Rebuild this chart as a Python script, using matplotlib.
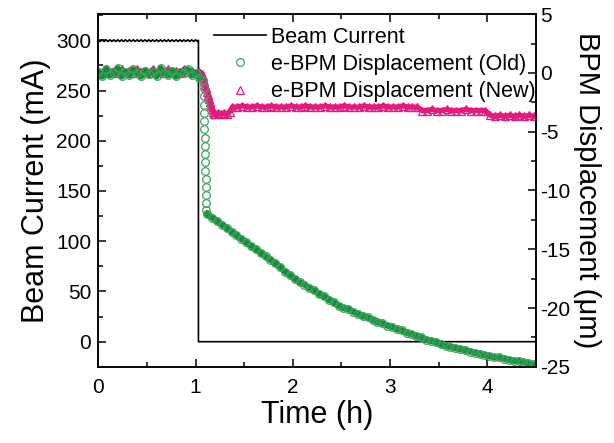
import matplotlib
matplotlib.use('Agg')
import matplotlib.pyplot as plt
from matplotlib.ticker import MultipleLocator

plt.rcParams['font.family'] = ['Liberation Sans', 'DejaVu Sans']
plt.rcParams['axes.unicode_minus'] = False

# beam current (mA), top-up sawtooth then beam dump
beam_t = [0.00, 0.02, 0.04, 0.06, 0.08, 0.10, 0.12, 0.14, 0.16, 0.18, 0.20, 0.22, 0.24,
          0.26, 0.28, 0.30, 0.32, 0.34, 0.36, 0.38, 0.40, 0.42, 0.44, 0.46, 0.48, 0.50,
          0.52, 0.54, 0.56, 0.58, 0.60, 0.62, 0.64, 0.66, 0.68, 0.70, 0.72, 0.74, 0.76,
          0.78, 0.80, 0.82, 0.84, 0.86, 0.88, 0.90, 0.92, 0.94, 0.96, 0.98, 1.00, 1.02,
          1.03, 1.03, 4.50]
beam_i = [300.5, 298.8, 300.5, 298.8, 300.5, 298.8, 300.5, 298.8, 300.5, 298.8, 300.5, 298.8, 300.5,
          298.8, 300.5, 298.8, 300.5, 298.8, 300.5, 298.8, 300.5, 298.8, 300.5, 298.8, 300.5, 298.8,
          300.5, 298.8, 300.5, 298.8, 300.5, 298.8, 300.5, 298.8, 300.5, 298.8, 300.5, 298.8, 300.5,
          298.8, 300.5, 298.8, 300.5, 298.8, 300.5, 298.8, 300.5, 298.8, 300.5, 298.8, 300.5, 298.8,
          300.0, 0.0, 0.0]

# e-BPM displacement, old (um): flat part, drop after the dump, slow decay
old_t = [0.00, 0.04, 0.08, 0.12, 0.16, 0.20, 0.24, 0.28, 0.32, 0.36, 0.40, 0.44, 0.48, 0.52,
         0.56, 0.60, 0.64, 0.68, 0.72, 0.76, 0.80, 0.84, 0.88, 0.92, 0.96, 1.00, 1.04,
         1.080, 1.082, 1.084, 1.086, 1.088, 1.090, 1.092, 1.094, 1.096, 1.098, 1.100,
         1.102, 1.104, 1.106, 1.108, 1.110, 1.112,
         1.12, 1.17, 1.22, 1.27, 1.32, 1.37, 1.42, 1.47, 1.52, 1.57, 1.62, 1.67, 1.72,
         1.77, 1.82, 1.87, 1.92, 1.97, 2.02, 2.07, 2.12, 2.17, 2.22, 2.27, 2.32, 2.37,
         2.42, 2.47, 2.52, 2.57, 2.62, 2.67, 2.72, 2.77, 2.82, 2.87, 2.92, 2.97, 3.02,
         3.07, 3.12, 3.17, 3.22, 3.27, 3.32, 3.37, 3.42, 3.47, 3.52, 3.57, 3.62, 3.67,
         3.72, 3.77, 3.82, 3.87, 3.92, 3.97, 4.02, 4.07, 4.12, 4.17, 4.22, 4.27, 4.32,
         4.37, 4.42, 4.47]
old_v = [0.1, -0.3, 0.3, -0.2, 0.0, 0.4, -0.3, 0.1, -0.2, 0.3, 0.0, -0.3, 0.2, -0.1,
         0.1, -0.3, 0.4, 0.0, -0.2, 0.2, -0.3, 0.1, 0.0, 0.3, -0.2, 0.0, -0.4,
         -0.6, -1.3, -2.0, -2.7, -3.4, -4.1, -4.8, -5.5, -6.2, -6.9, -7.6,
         -8.3, -9.0, -9.7, -10.4, -11.1, -11.7,
         -12.0, -12.3, -12.6, -12.9, -13.2, -13.5, -13.8, -14.1, -14.4, -14.7, -15.0, -15.3, -15.6,
         -15.9, -16.2, -16.5, -16.9, -17.2, -17.5, -17.8, -18.0, -18.3, -18.5, -18.8, -19.0, -19.3,
         -19.5, -19.8, -20.0, -20.1, -20.3, -20.5, -20.7, -20.8, -21.0, -21.2, -21.3, -21.5, -21.6,
         -21.8, -21.9, -22.1, -22.2, -22.4, -22.5, -22.7, -22.8, -22.9, -23.1, -23.2, -23.3, -23.4,
         -23.5, -23.6, -23.7, -23.8, -23.9, -24.0, -24.1, -24.2, -24.2, -24.3, -24.4, -24.5, -24.5,
         -24.6, -24.7, -24.8]
n_flat = 27      # samples before the drop
n_decay = 44     # first sample of the slow decay

# e-BPM displacement, new (um)
new_t = [0.00, 0.04, 0.08, 0.12, 0.16, 0.20, 0.24, 0.28, 0.32, 0.36, 0.40, 0.44, 0.48, 0.52,
         0.56, 0.60, 0.64, 0.68, 0.72, 0.76, 0.80, 0.84, 0.88, 0.92, 0.96, 1.00, 1.04,
         1.07, 1.08, 1.09, 1.10, 1.11, 1.12, 1.13, 1.14, 1.15, 1.16, 1.17, 1.18, 1.19, 1.20,
         1.23, 1.26, 1.29, 1.32, 1.35,
         1.38, 1.43, 1.48, 1.53, 1.58, 1.63, 1.68, 1.73, 1.78, 1.83, 1.88, 1.93, 1.98,
         2.03, 2.08, 2.13, 2.18, 2.23, 2.28, 2.33, 2.38, 2.43, 2.48, 2.53, 2.58, 2.63,
         2.68, 2.73, 2.78, 2.83, 2.88, 2.93, 2.98, 3.03, 3.08, 3.13, 3.18, 3.23, 3.28,
         3.33, 3.38, 3.43, 3.48, 3.53, 3.58, 3.63, 3.68, 3.73, 3.78, 3.83, 3.88, 3.93, 3.98,
         4.03, 4.08, 4.13, 4.18, 4.23, 4.28, 4.33, 4.38, 4.43, 4.48]
new_v = [0.2, 0.0, 0.3, 0.1, 0.2, 0.0, 0.3, 0.1, 0.2, 0.0, 0.3, 0.1, 0.2, 0.0,
         0.3, 0.1, 0.2, 0.0, 0.3, 0.1, 0.2, 0.0, 0.3, 0.1, 0.2, 0.0, 0.1,
         -0.1, -0.4, -0.7, -1.0, -1.3, -1.6, -1.9, -2.2, -2.5, -2.8, -3.1, -3.3, -3.5, -3.5,
         -3.4, -3.5, -3.4, -3.5, -3.3,
         -2.9, -2.9, -2.8, -2.9, -2.9, -2.8, -2.9, -2.9, -2.8, -2.9, -2.9, -2.9, -2.8,
         -2.9, -2.9, -2.8, -2.9, -2.9, -2.9, -2.8, -2.9, -2.9, -2.9, -2.8, -2.9, -2.9,
         -2.9, -2.8, -2.9, -2.9, -2.9, -2.8, -2.9, -2.9, -2.9, -2.8, -2.9, -2.9, -2.9,
         -3.2, -3.2, -3.1, -3.2, -3.2, -3.1, -3.2, -3.2, -3.2, -3.1, -3.2, -3.2, -3.2, -3.2,
         -3.6, -3.7, -3.6, -3.7, -3.6, -3.7, -3.6, -3.7, -3.6, -3.7]

GREEN = '#178a39'
GREEN_LT = '#3aa35a'
PINK = '#e6197f'

fig = plt.figure(figsize=(6.14, 4.43), dpi=100)
ax = fig.add_axes([0.16, 0.172, 0.713, 0.796])
ax2 = ax.twinx()

l1, = ax.plot(beam_t, beam_i, color='black', lw=1.2, label='Beam Current')

# dense samples in the original merge into solid bands
ax2.plot(new_t, new_v, color=PINK, lw=3.8, solid_joinstyle='round')
l3, = ax2.plot(new_t, new_v, ls='none', marker='^', ms=6, mfc='none', mec=PINK, mew=0.9,
               label='e-BPM Displacement (New)')
ax2.plot(old_t[:n_flat], old_v[:n_flat], color=GREEN, lw=4.5)
ax2.plot(old_t[n_decay:], old_v[n_decay:], color=GREEN, lw=4.5)
l2, = ax2.plot(old_t, old_v, ls='none', marker='o', ms=5.5, mfc='none', mec=GREEN_LT, mew=0.9,
               label='e-BPM Displacement (Old)')

ax.set_xlim(0, 4.5)
ax.set_ylim(-25, 326)
ax2.set_ylim(-25, 5)

ax.xaxis.set_major_locator(MultipleLocator(1))
ax.xaxis.set_minor_locator(MultipleLocator(0.5))
ax.yaxis.set_major_locator(MultipleLocator(50))
ax.yaxis.set_minor_locator(MultipleLocator(25))
ax2.yaxis.set_major_locator(MultipleLocator(5))
ax2.yaxis.set_minor_locator(MultipleLocator(2.5))

ax.tick_params(which='both', direction='in', top=True, right=False, width=1.1)
ax.tick_params(which='major', length=6, labelsize=15)
ax.tick_params(axis='x', which='major', pad=8)
ax.tick_params(axis='y', which='major', pad=5)
ax.tick_params(which='minor', length=3.5)
ax2.tick_params(which='both', direction='in', width=1.1)
ax2.tick_params(which='major', length=6, labelsize=15, pad=3)
ax2.tick_params(which='minor', length=3.5)

for a in (ax, ax2):
    for s in a.spines.values():
        s.set_linewidth(1.1)

ax.set_xlabel('Time (h)', fontsize=22, labelpad=2)
ax.set_ylabel('Beam Current (mA)', fontsize=22, labelpad=4)
ax2.set_ylabel('BPM Displacement (μm)', fontsize=21, rotation=270, labelpad=22)

ax2.legend(handles=[l1, l2, l3], loc='upper right', bbox_to_anchor=(1.0, 0.965),
           frameon=False, fontsize=15.5, handlelength=2.4, handletextpad=0.25,
           labelspacing=0.3, borderpad=0, borderaxespad=0)

fig.savefig('out.png', dpi=100)
